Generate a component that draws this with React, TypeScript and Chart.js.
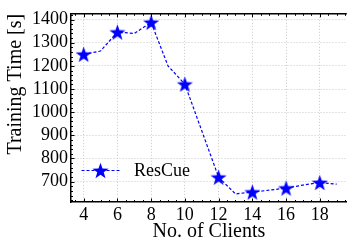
import React, { useEffect, useRef } from 'react';
import { Chart, registerables } from 'chart.js';

Chart.register(...registerables);

const xValues = [4, 5, 6, 7, 8, 9, 10, 11, 12, 13, 14, 15, 16, 17, 18, 19];
const yValues = [1250, 1264, 1346, 1340, 1388, 1200, 1121, 920, 719, 647, 655, 663, 672, 685, 696, 689];
const markerX = [4, 6, 8, 10, 12, 14, 16, 18];
const xTicks = [4, 6, 8, 10, 12, 14, 16, 18];
const yTicks = [700, 800, 900, 1000, 1100, 1200, 1300, 1400];
const seriesLabel = 'ResCue';
const xTitle = 'No. of Clients';
const yTitle = 'Training Time [s]';

const BLUE = '#0000ff';
const FONT = '"Liberation Serif", "Times New Roman", serif';

function starPath(ctx: CanvasRenderingContext2D, cx: number, cy: number, r: number) {
  const inner = r * 0.4;
  ctx.beginPath();
  for (let i = 0; i < 10; i++) {
    const rad = i % 2 === 0 ? r : inner;
    const a = -Math.PI / 2 + (i * Math.PI) / 5;
    const px = cx + rad * Math.cos(a);
    const py = cy + rad * Math.sin(a);
    if (i === 0) ctx.moveTo(px, py);
    else ctx.lineTo(px, py);
  }
  ctx.closePath();
}

function makeStar(r: number) {
  const c = document.createElement('canvas');
  const s = Math.ceil(r * 2 + 2);
  c.width = s;
  c.height = s;
  const ctx = c.getContext('2d')!;
  starPath(ctx, s / 2, s / 2 + 0.8, r);
  ctx.fillStyle = BLUE;
  ctx.fill();
  return c;
}

export default function App() {
  const ref = useRef<HTMLCanvasElement>(null);

  useEffect(() => {
    document.body.style.margin = '0';
    const star = makeStar(8.5);

    const framePlugin = {
      id: 'frame',
      afterDraw(chart: any) {
        const { ctx, chartArea } = chart;
        const { left, right, top, bottom } = chartArea;
        const xs = chart.scales.x;
        const ys = chart.scales.y;
        ctx.save();
        ctx.strokeStyle = '#000';
        ctx.lineWidth = 1.5;
        ctx.beginPath();
        ctx.moveTo(left, top);
        ctx.lineTo(right, top);
        ctx.stroke();
        ctx.lineWidth = 1;
        ctx.beginPath();
        for (let v = Math.ceil(xs.min * 2) / 2; v <= xs.max; v += 0.5) {
          const px = Math.round(xs.getPixelForValue(v)) + 0.5;
          const len = Number.isInteger(v / 2) ? 3.5 : 2;
          ctx.moveTo(px, bottom);
          ctx.lineTo(px, bottom - len);
          ctx.moveTo(px, top);
          ctx.lineTo(px, top + len);
        }
        for (let v = Math.ceil(ys.min / 20) * 20; v <= ys.max; v += 20) {
          const py = Math.round(ys.getPixelForValue(v)) + 0.5;
          const len = v % 100 === 0 ? 3.5 : 2;
          ctx.moveTo(left, py);
          ctx.lineTo(left + len, py);
        }
        ctx.stroke();

        // legend
        const ly = 170.5;
        ctx.strokeStyle = BLUE;
        ctx.lineWidth = 1.2;
        ctx.setLineDash([3, 2]);
        ctx.beginPath();
        ctx.moveTo(81.5, ly);
        ctx.lineTo(119.5, ly);
        ctx.stroke();
        ctx.setLineDash([]);
        starPath(ctx, 100.5, ly + 0.8, 8.5);
        ctx.fillStyle = BLUE;
        ctx.fill();
        ctx.fillStyle = '#000';
        ctx.font = `18px ${FONT}`;
        ctx.textBaseline = 'middle';
        ctx.textAlign = 'left';
        ctx.fillText(seriesLabel, 134, ly + 1);
        ctx.restore();
      },
    };

    const chart = new Chart(ref.current!, {
      type: 'line',
      data: {
        datasets: [
          {
            label: seriesLabel,
            data: xValues.map((x, i) => ({ x, y: yValues[i] })),
            borderColor: BLUE,
            backgroundColor: BLUE,
            borderWidth: 1.2,
            borderDash: [3, 2],
            tension: 0,
            fill: false,
            clip: false as any,
            pointStyle: star as any,
            pointRadius: (c: any) => (markerX.includes(xValues[c.dataIndex]) ? 8 : 0),
          },
        ],
      },
      plugins: [framePlugin],
      options: {
        responsive: false,
        animation: false,
        events: [],
        layout: { padding: { top: 12, right: 0, left: 0, bottom: 0 } },
        plugins: { legend: { display: false }, tooltip: { enabled: false } },
        scales: {
          x: {
            type: 'linear',
            min: 3.25,
            max: 19.6,
            afterBuildTicks: (s: any) => {
              s.ticks = xTicks.map((v) => ({ value: v }));
            },
            afterFit: (s: any) => {
              s.height = 42;
            },
            ticks: {
              color: '#000',
              font: { family: FONT, size: 18 },
              padding: 2,
              maxRotation: 0,
              autoSkip: false,
              callback: (v: any) => String(v),
            },
            grid: { color: '#c8c8c8', lineWidth: 1, drawTicks: false },
            border: { color: '#000', width: 1.5, dash: [1, 2] },
            title: {
              display: true,
              text: xTitle,
              color: '#000',
              font: { family: FONT, size: 20 },
              padding: { top: 0, bottom: 0 },
            },
          },
          y: {
            type: 'linear',
            min: 612,
            max: 1425,
            afterBuildTicks: (s: any) => {
              s.ticks = yTicks.map((v) => ({ value: v }));
            },
            afterFit: (s: any) => {
              s.width = 71;
            },
            ticks: {
              color: '#000',
              font: { family: FONT, size: 18 },
              padding: 3,
              autoSkip: false,
              callback: (v: any) => String(v),
            },
            grid: { color: '#c8c8c8', lineWidth: 1, drawTicks: false },
            border: { color: '#000', width: 1.5, dash: [1, 2] },
            title: {
              display: true,
              text: yTitle,
              align: 'end',
              color: '#000',
              font: { family: FONT, size: 20 },
              padding: { top: 4, bottom: 0 },
            },
          },
        },
      },
    } as any);

    return () => chart.destroy();
  }, []);

  return (
    <div style={{ width: 356, height: 244 }}>
      <canvas ref={ref} width={356} height={244} style={{ display: 'block' }} />
    </div>
  );
}
